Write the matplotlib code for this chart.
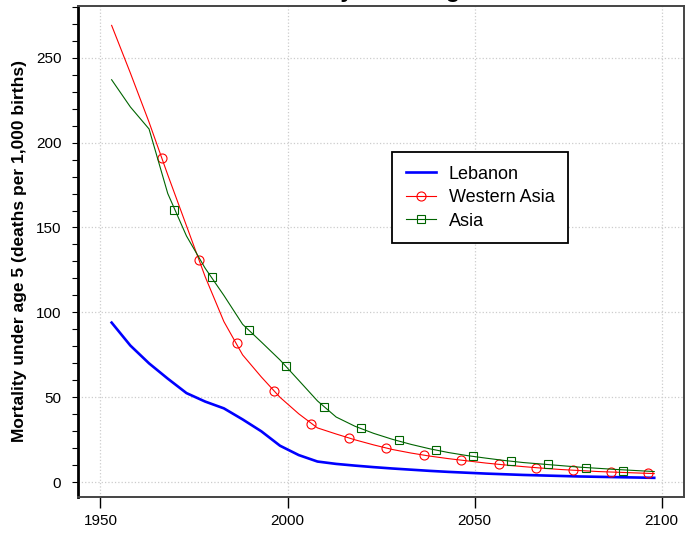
import matplotlib
matplotlib.use('Agg')
from matplotlib import pyplot as plt
from matplotlib.lines import Line2D
from matplotlib.ticker import MultipleLocator

plt.rcParams['font.family'] = ['Liberation Sans', 'DejaVu Sans']

# 5-year periods (mid points)
years = [1953 + 5 * i for i in range(30)]

lebanon = [94, 80.5, 70, 61, 52.5, 47.5, 43.5, 37, 30, 21.5,
           16, 12.2, 10.8, 9.8, 8.9, 8.1, 7.4, 6.7, 6.1, 5.6,
           5.1, 4.7, 4.3, 4.0, 3.7, 3.4, 3.2, 3.0, 2.8, 2.6]
western_asia = [269, 241, 212, 181, 151, 121, 94.6, 75, 62, 50,
                40.3, 32, 28.4, 25, 22, 19.3, 17.2, 15.4, 13.9, 12.6,
                11.3, 10.2, 9.2, 8.3, 7.5, 6.9, 6.3, 5.9, 5.5, 5.1]
asia = [237, 221, 208, 170, 145, 126, 110, 93, 82.6, 72,
        60, 47.9, 38.4, 33, 28.8, 25.3, 22.3, 19.7, 17.5, 15.7,
        14.2, 12.8, 11.6, 10.7, 9.8, 8.9, 8.2, 7.5, 6.9, 6.3]

# marker positions
wa_mark_x = [1966.4, 1976.4, 1986.4, 1996.4, 2006.4, 2016.4, 2026.4,
             2036.4, 2046.4, 2056.4, 2066.4, 2076.4, 2086.4, 2096.4]
wa_mark_y = [190.9, 130.9, 81.9, 53.8, 34.3, 26.2, 20.3,
             16.0, 13.0, 10.7, 8.5, 7.2, 6.2, 5.4]
asia_mark_x = [1969.7, 1979.7, 1989.7, 1999.7, 2009.7, 2019.7, 2029.7,
               2039.7, 2049.7, 2059.7, 2069.7, 2079.7, 2089.7]
asia_mark_y = [160.3, 121, 89.7, 68.7, 44.2, 31.7, 24.6,
               19.1, 15.4, 12.5, 10.5, 8.5, 6.9]

fig = plt.figure(figsize=(6.96, 5.33), dpi=100)
ax = fig.add_axes([0.112, 0.0675, 0.871, 0.9215])

ax.plot(years, lebanon, color='#0000ff', lw=1.9)
ax.plot(years, western_asia, color='#ff0000', lw=0.8)
ax.plot(wa_mark_x, wa_mark_y, ls='none', marker='o', ms=6.5, mfc='none',
        mec='#ff0000', mew=0.8)
ax.plot(years, asia, color='darkgreen', lw=0.8)
ax.plot(asia_mark_x, asia_mark_y, ls='none', marker='s', ms=6, mfc='none',
        mec='darkgreen', mew=0.8)

ax.set_xlim(1944, 2106)
ax.set_ylim(-8.7, 280.5)
ax.set_xticks([1950, 2000, 2050, 2100])
ax.set_yticks([0, 50, 100, 150, 200, 250])
ax.yaxis.set_minor_locator(MultipleLocator(10))
ax.grid(True, which='major', color='#cccccc', ls=':', lw=0.9)

ax.tick_params(axis='x', direction='out', length=8, width=1, pad=4, labelsize=11)
ax.tick_params(axis='y', which='both', direction='out', length=4, width=0.8,
               pad=8, labelsize=11)

for s in ['top', 'right', 'bottom']:
    ax.spines[s].set_color('#444444')
    ax.spines[s].set_linewidth(1.4)
ax.spines['left'].set_color('black')
ax.spines['left'].set_linewidth(2.0)

ax.set_ylabel('Mortality under age 5 (deaths per 1,000 births)',
              fontsize=12.5, fontweight='bold', labelpad=6)

# title sits mostly above the canvas, only descenders show
fig.text(0.537, 1.006, 'Mortality under age 5', ha='center', va='baseline',
         fontsize=17, fontweight='bold')

handles = [
    Line2D([], [], color='#0000ff', lw=1.9),
    Line2D([], [], color='#ff0000', lw=0.8, marker='o', ms=6.5, mfc='none', mew=0.8),
    Line2D([], [], color='darkgreen', lw=0.8, marker='s', ms=6, mfc='none', mew=0.8),
]
leg = fig.legend(handles, ['Lebanon', 'Western Asia', 'Asia'],
                 loc='upper left', bbox_to_anchor=(0.5632, 0.7148),
                 borderaxespad=0, fontsize=13, fancybox=False, framealpha=1,
                 edgecolor='black', handlelength=1.7, handletextpad=0.7,
                 labelspacing=0.36, borderpad=0.75)
leg.get_frame().set_linewidth(1.3)

plt.savefig('out.png', dpi=100)
